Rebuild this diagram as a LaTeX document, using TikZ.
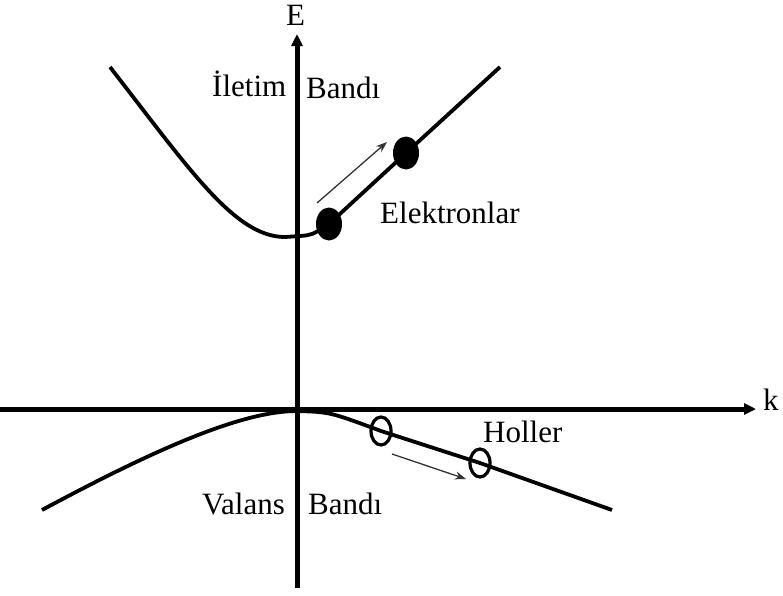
\documentclass[tikz,border=0pt]{standalone}
\usepackage{fontspec}
\setmainfont{Liberation Serif}
\usetikzlibrary{positioning, shapes.geometric, arrows.meta}

\begin{document}
\begin{tikzpicture}[
		x=1pt, y=-1pt,                                   % 像素坐标，y 向下
		axis/.style={line width=5pt, -{Triangle[length=12pt,width=11pt]}},
		band/.style={line width=3.8pt, line join=round}, % 能带曲线
		lbl/.style={font=\fontsize{31}{36}\selectfont, inner sep=0pt, anchor=base west},
		elec/.style={ellipse, fill=black, inner sep=0pt, minimum width=26pt, minimum height=33pt},
		hole/.style={ellipse, draw, line width=3.2pt, inner sep=0pt, minimum width=20pt, minimum height=28pt},
		drift/.style={draw=black!80, line width=1.3pt, -{Stealth[length=11pt,width=8pt]}}
		]
		\useasboundingbox (0,0) rectangle (783,595);
		% 坐标轴
		\coordinate (ybot) at (297,588);
		\coordinate (ytop) at (297,34);
		\coordinate (xl) at (0,409);
		\coordinate (xr) at (756,409);
		\draw[axis] (ybot) -- (ytop);
		\draw[axis] (xl) -- (xr);
		\node[lbl] (elabel) at (286,25) {E};
		\node[lbl] (klabel) at (763,410) {k};
		% 导带与价带
		\draw[band] (110,67) .. controls (190,170) and (235,237) .. (285,237)
			-- (300,236) .. controls (312,235) .. (329,224) -- (406,153) -- (500,67);
		\draw[band] (42,510) .. controls (150,452) and (240,411) .. (297,411)
			.. controls (330,412) .. (381,431) -- (480,463) -- (612,510);
		% 电子与空穴
		\node[elec] (e1) at (329,224) {};
		\node[elec] (e2) at (406,153) {};
		\node[hole] (h1) at (381,431) {};
		\node[hole] (h2) at (480,463) {};
		\coordinate (ea) at (317,203);
		\coordinate (eb) at (387,142);
		\coordinate (ha) at (392,454);
		\coordinate (hb) at (466,479);
		\draw[drift] (ea) -- (eb);
		\draw[drift] (ha) -- (hb);
		% 文字
		\node[lbl] (iletim) at (212,96) {İletim};
		\node[lbl] (bandc) at (306,98) {Bandı};
		\node[lbl] (elektron) at (380,223) {Elektronlar};
		\node[lbl] (holler) at (483,442) {Holler};
		\node[lbl] (valans) at (202,514) {Valans};
		\node[lbl] (bandv) at (308,514) {Bandı};
	\end{tikzpicture}
\end{document}
